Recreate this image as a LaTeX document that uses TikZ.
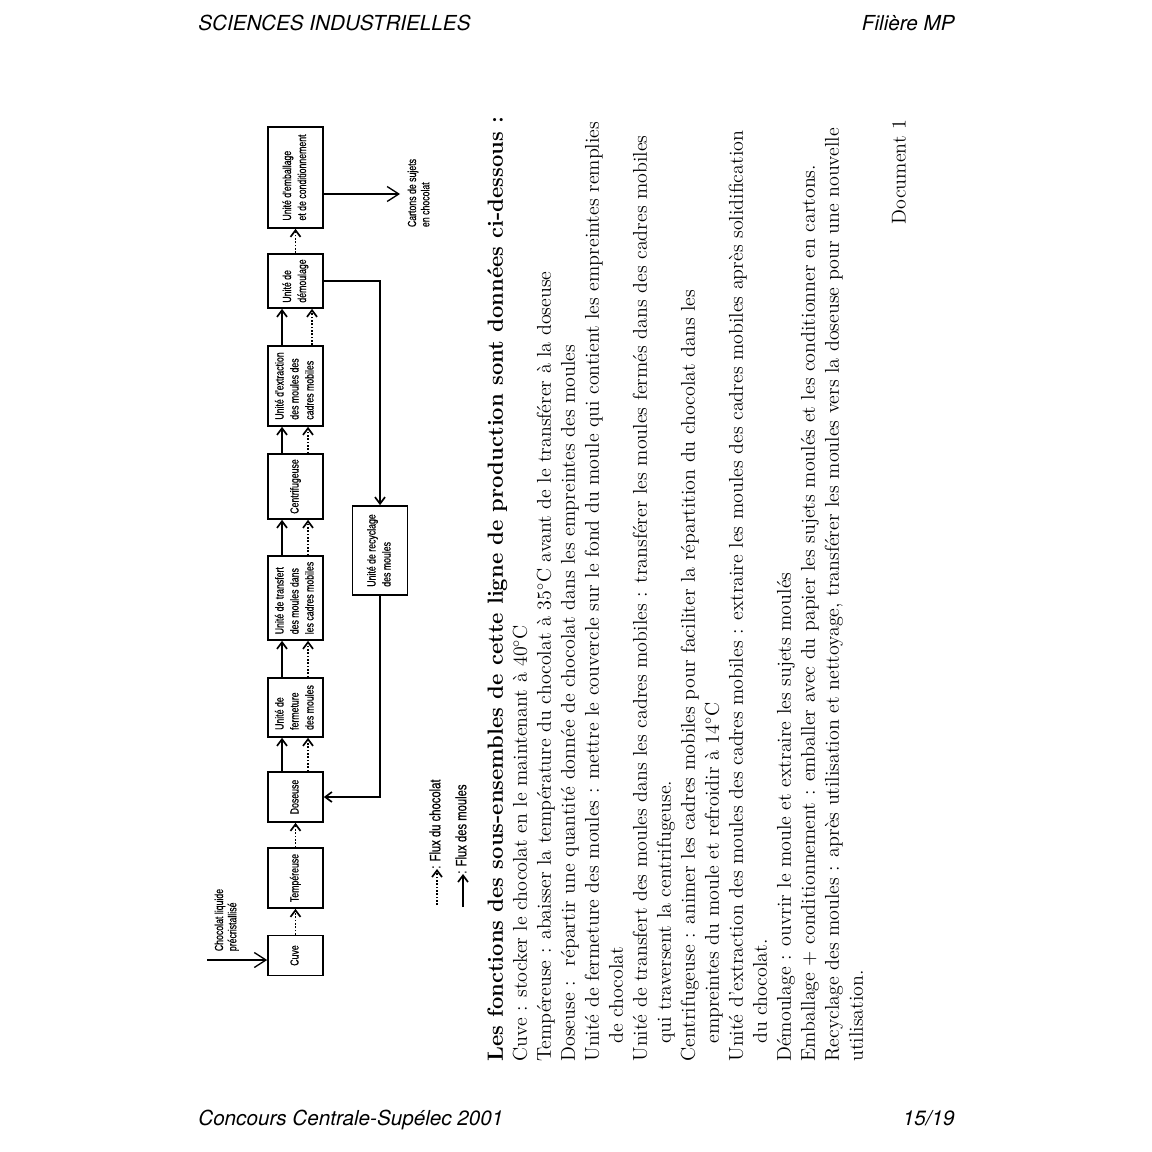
\documentclass[tikz,border=0pt]{standalone}
\usepackage{fontspec}
\newfontfamily\headfont{TeX Gyre Heros}
\newfontfamily\narrowfont[FakeStretch=0.75,FakeBold=0.6]{Liberation Sans}
\usetikzlibrary{arrows.meta,calc}
\newcommand{\vtxt}[1]{\rotatebox{90}{\begin{tabular}{@{}l@{}}#1\end{tabular}}}

\begin{document}
\begin{tikzpicture}[x=0.6pt, y=-0.6pt,
  bloc/.style={draw, line width=1pt, minimum width=33pt, inner sep=0pt, font=\narrowfont\fontsize{7}{9}\selectfont},
  lbl/.style={inner sep=0pt, font=\narrowfont\fontsize{7}{8}\selectfont},
  flm/.style={line width=1pt, -{Straight Barb[length=4pt,width=6pt]}},
  flc/.style={flm, densely dotted},
  gros/.style={line width=0.8pt, -{Straight Barb[length=7pt,width=9pt]}},
  tete/.style={inner sep=0pt, font=\headfont\itshape\fontsize{12.4}{14}\selectfont}]
  % page
  \fill[white] (0,0) rectangle (1152,1152);
  \useasboundingbox (0,0) rectangle (1152,1152);
  \node[tete, anchor=base west] (entete) at (198,30.5) {SCIENCES INDUSTRIELLES};
  \node[tete, anchor=base east] (filiere) at (955,30.5) {Filière MP};
  \node[tete, anchor=base west] (concours) at (198,1125) {Concours Centrale-Supélec 2001};
  \node[tete, anchor=base east] (folio) at (955,1125) {15/19};

  % 生产线：各单元方框（竖排文字）
  \node[bloc, minimum height=24pt] (cuve) at (295.5,955.5) {\vtxt{Cuve}};
  \node[bloc, minimum height=36pt] (temp) at (295.5,878) {\vtxt{Tempéreuse}};
  \node[bloc, minimum height=30pt] (dos) at (295.5,797) {\vtxt{Doseuse}};
  \node[bloc, minimum height=35.4pt] (ferm) at (295.5,707.5) {\vtxt{Unité de\\fermeture\\des moules}};
  \node[bloc, minimum height=50.4pt] (transf) at (295.5,598) {\vtxt{Unité de transfert\\des moules dans\\les cadres mobiles}};
  \node[bloc, minimum height=39pt] (centri) at (295.5,486.5) {\vtxt{Centrifugeuse}};
  \node[bloc, minimum height=48pt] (extr) at (295.5,386) {\vtxt{Unité d'extraction\\des moules des\\cadres mobiles}};
  \node[bloc, minimum height=32.4pt] (demoul) at (295.5,281) {\vtxt{Unité de\\démoulage}};
  \node[bloc, minimum height=60.6pt] (emb) at (295.5,177.5) {\vtxt{Unité d'emballage\\et de conditionnement}};
  \node[bloc, minimum height=53.4pt] (recy) at (380,550.5) {\vtxt{Unité de recyclage\\des moules}};

  % 两条流线的横坐标
  \coordinate (ms) at (282,0);
  \coordinate (cs) at (308,0);
  \coordinate (cs2) at (312,0);

  % 巧克力流（虚线）
  \draw[flc] (cuve.north) -- (temp.south);
  \draw[flc] (temp.north) -- (dos.south);
  \draw[flc] (dos.north -| cs) -- (ferm.south -| cs);
  \draw[flc] (ferm.north -| cs) -- (transf.south -| cs);
  \draw[flc] (transf.north -| cs) -- (centri.south -| cs);
  \draw[flc] (centri.north -| cs) -- (extr.south -| cs);
  \draw[flc] (extr.north -| cs2) -- (demoul.south -| cs2);
  \draw[flc] (demoul.north) -- (emb.south);

  % 模具流（实线），回收回路
  \draw[flm] (dos.north -| ms) -- (ferm.south -| ms);
  \draw[flm] (ferm.north -| ms) -- (transf.south -| ms);
  \draw[flm] (transf.north -| ms) -- (centri.south -| ms);
  \draw[flm] (centri.north -| ms) -- (extr.south -| ms);
  \draw[flm] (extr.north -| ms) -- (demoul.south -| ms);
  \draw[flm] (demoul.east) -| (recy.north);
  \draw[flm] (recy.south) |- (dos.east);

  % 入口与出口
  \coordinate (entree) at (207,960);
  \draw[gros] (entree) -- (entree -| cuve.west);
  \node[lbl] (choco) at (227,920) {\vtxt{Chocolat liquide\\précristallisé}};
  \coordinate (sortie) at (400,194);
  \draw[gros] (sortie -| emb.east) -- (sortie);
  \node[lbl] (cartons) at (420,193) {\vtxt{Cartons de sujets\\en chocolat}};

  % 图例
  \node[lbl, font=\narrowfont\fontsize{9}{10}\selectfont, anchor=south] (legc) at (437,869) {\vtxt{: Flux du chocolat}};
  \coordinate (legc0) at (437,905);
  \draw[flc] (legc0) -- (legc.south);
  \node[lbl, font=\narrowfont\fontsize{9}{10}\selectfont, anchor=south] (legm) at (463,874) {\vtxt{: Flux des moules}};
  \coordinate (legm0) at (463,907);
  \draw[flm] (legm0) -- (legm.south);

  % 说明文字（旋转 90°）
  \node[rotate=90, anchor=north west, inner sep=0pt, align=left, font=\fontsize{12}{14.4}\selectfont] (fonctions) at (487,1062) {%
    {\fontsize{13.2}{14.4}\selectfont\bfseries Les fonctions des sous-ensembles de cette ligne de production sont données ci-dessous :}\\
    Cuve : stocker le chocolat en le maintenant à 40$^\circ$C\\
    Tempéreuse : abaisser la température du chocolat à 35$^\circ$C avant de le transférer à la doseuse\\
    Doseuse : \ répartir une quantité donnée de chocolat dans les empreintes des moules\\
    Unité de fermeture des moules : mettre le couvercle sur le fond du moule qui contient les empreintes remplies\\
    \hspace*{0.9em}de chocolat\\
    Unité de transfert des moules dans les cadres mobiles : transférer les moules fermés dans des cadres mobiles\\
    \hspace*{0.9em}qui traversent la centrifugeuse.\\
    Centrifugeuse : animer les cadres mobiles pour faciliter la répartition du chocolat dans les\\
    \hspace*{0.9em}empreintes du moule et refroidir à 14$^\circ$C\\
    Unité d'extraction des moules des cadres mobiles : extraire les moules des cadres mobiles après solidification\\
    \hspace*{0.9em}du chocolat.\\
    Démoulage : ouvrir le moule et extraire les sujets moulés\\
    Emballage + conditionnement : emballer avec du papier les sujets moulés et les conditionner en cartons.\\
    Recyclage des moules : après utilisation et nettoyage, transférer les moules vers la doseuse pour une nouvelle\\
    utilisation.};
  \node[rotate=90, inner sep=0pt, font=\fontsize{12}{14.4}\selectfont] (doc) at (899,172) {Document 1};
\end{tikzpicture}
\end{document}
